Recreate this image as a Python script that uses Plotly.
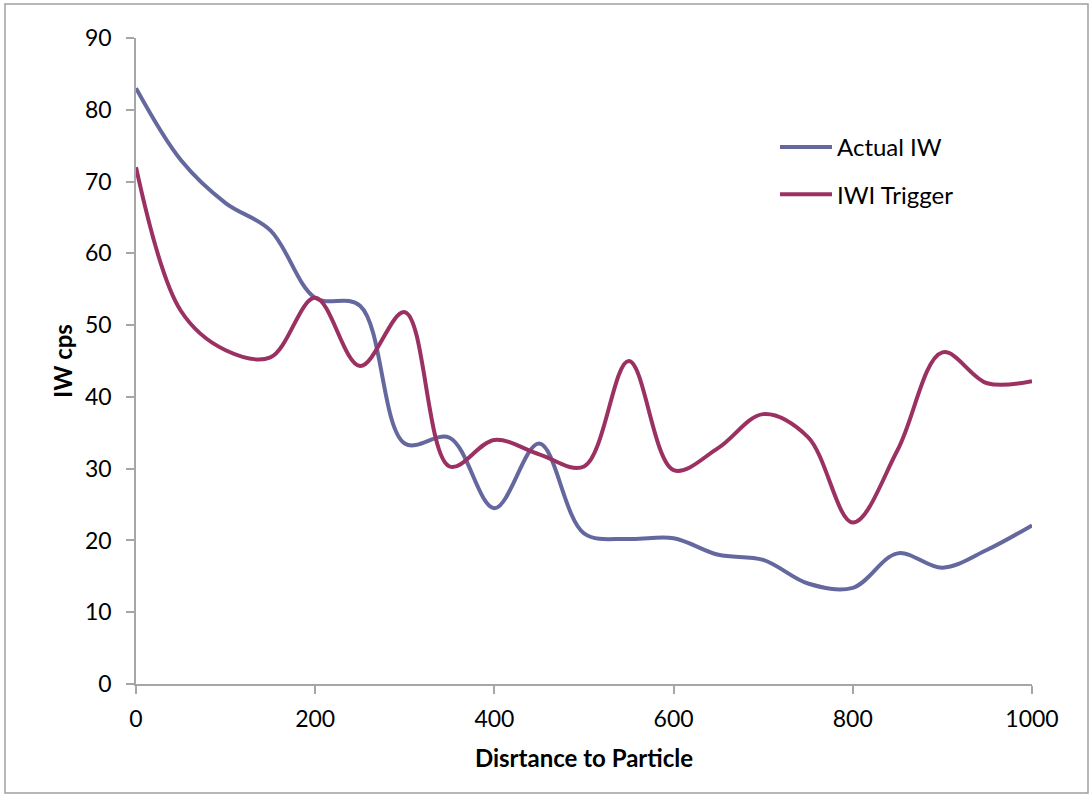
import plotly.graph_objects as go

distance = [0, 50, 100, 150, 200, 250, 300, 350, 400, 450, 500,
            550, 600, 650, 700, 750, 800, 850, 900, 950, 1000]
actual_iw = [83, 73, 67, 63.2, 53.8, 52.7, 33.5, 34.3, 24.5, 33.5, 21,
             20.2, 20.3, 18, 17.3, 14, 13.4, 18.2, 16.2, 18.7, 22.1]
iwi_trigger = [72, 52, 46.5, 45.5, 53.8, 44.3, 51.8, 30.3, 34, 32, 30.3,
               45, 29.8, 32.9, 37.6, 34.4, 22.5, 32.6, 46.2, 41.9, 42.2]
x_ticks = [0, 200, 400, 600, 800, 1000]
y_ticks = [0, 10, 20, 30, 40, 50, 60, 70, 80, 90]

FONT = "Lato, Calibri, Carlito, sans-serif"
BLUE = "#65689E"
RED = "#9A3162"
AXIS = "#A6A6A6"

fig = go.Figure()
fig.add_trace(go.Scatter(x=distance, y=actual_iw, mode="lines", name="Actual IW",
                         legendgroup="a",
                         line=dict(color=BLUE, width=4, shape="spline", smoothing=1)))
fig.add_trace(go.Scatter(x=distance, y=iwi_trigger, mode="lines", name="IWI Trigger",
                         legendgroup="b",
                         line=dict(color=RED, width=4, shape="spline", smoothing=1)))

W, H = 1091, 796
L, R, T, B = 136, 1032, 38, 684
fig.update_layout(
    width=W, height=H,
    margin=dict(l=L, r=W - R, t=T, b=H - B),
    paper_bgcolor="white", plot_bgcolor="white",
    font=dict(family=FONT, size=23, color="black"),
    showlegend=True,
    legend=dict(x=(775 - L) / (R - L), y=(B - 125) / (B - T), xanchor="left", yanchor="top",
                bgcolor="rgba(0,0,0,0)", traceorder="grouped", tracegroupgap=13,
                itemwidth=52, font=dict(family=FONT, size=24)),
    xaxis=dict(range=[0, 1000], tickvals=x_ticks, showgrid=False, zeroline=False,
               showline=True, linecolor=AXIS, linewidth=1.5,
               ticks="outside", ticklen=8, tickcolor=AXIS, tickwidth=1.5,
               tickfont=dict(family=FONT, size=23), ticklabelstandoff=6,
               title=dict(text="<b>Disrtance to Particle</b>", font=dict(family=FONT, size=24),
                          standoff=19)),
    yaxis=dict(range=[0, 90], tickvals=y_ticks, showgrid=False, zeroline=False,
               showline=True, linecolor=AXIS, linewidth=1.5,
               ticks="outside", ticklen=8, tickcolor=AXIS, tickwidth=1.5,
               tickfont=dict(family=FONT, size=23), ticklabelstandoff=10,
               title=dict(text="<b>IW cps</b>", font=dict(family=FONT, size=24),
                          standoff=6)),
)

# outer chart border
fig.add_shape(type="rect", xref="paper", yref="paper",
              x0=(5 - L) / (R - L), x1=(1088 - L) / (R - L),
              y0=(B - 793) / (B - T), y1=(B - 4) / (B - T),
              line=dict(color="#A0A0A0", width=1.5), layer="below")

fig.write_html("out.html", config={"displayModeBar": False},
               post_script="document.body.style.margin='0';")
